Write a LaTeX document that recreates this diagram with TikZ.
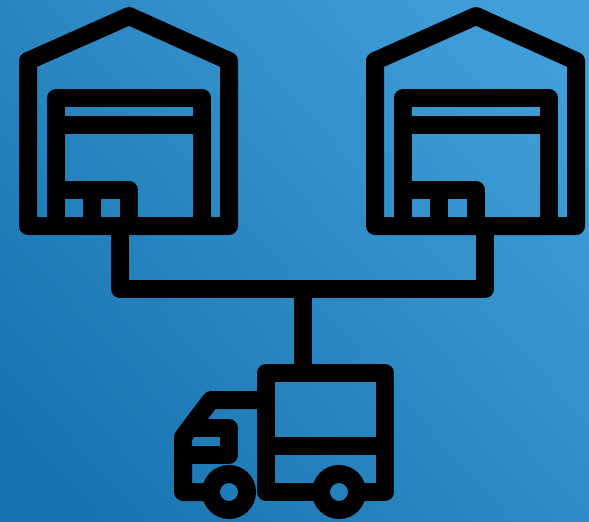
\documentclass[tikz,border=0pt]{standalone}
\definecolor{bgLow}{RGB}{24,116,176}
\definecolor{bgHigh}{RGB}{64,158,216}
\tikzset{
  icon/.style={draw=black,line width=18pt,line join=round,line cap=butt},
  wheelring/.style={draw=black,line width=18pt}
}
\begin{document}
\begin{tikzpicture}[x=1pt,y=-1pt]
\useasboundingbox (0,0) rectangle (589,522);
\clip (0,0) rectangle (589,522);
\shade[shading=axis,left color=bgHigh,right color=bgLow,shading angle=-48] (-40,-40) rectangle (629,562);
% warehouses
\foreach \dx in {0,347}{
\begin{scope}[xshift=\dx pt]
  \draw[icon] (129,16) -- (229,61) -- (229,226) -- (28,226) -- (28,61) -- cycle;
  \draw[icon] (56,226) -- (56,98) -- (202,98) -- (202,226);
  \draw[icon] (56,125) -- (202,125);
  \draw[icon] (56,190) -- (129,190) -- (129,226);
  \draw[icon] (92,190) -- (92,226);
\end{scope}
}
% connectors
\coordinate (leftDrop) at (120,226);
\coordinate (rightDrop) at (485,226);
\coordinate (junction) at (303,289);
\coordinate (truckTop) at (303,373);
\draw[icon] (leftDrop) -- (120,289) -- (485,289) -- (rightDrop);
\draw[icon] (junction) -- (truckTop);
% truck
\draw[icon] (321,492) -- (266,492) -- (266,373) -- (385,373) -- (385,492) -- (357,492);
\draw[icon] (266,446) -- (385,446);
\draw[icon] (266,400) -- (211,400) -- (183,437) -- (183,492) -- (211,492);
\draw[icon] (186,428) -- (229,428) -- (229,455) -- (183,455);
\draw[wheelring] (229,492) circle[radius=18];
\draw[wheelring] (339,492) circle[radius=18];
\end{tikzpicture}
\end{document}
